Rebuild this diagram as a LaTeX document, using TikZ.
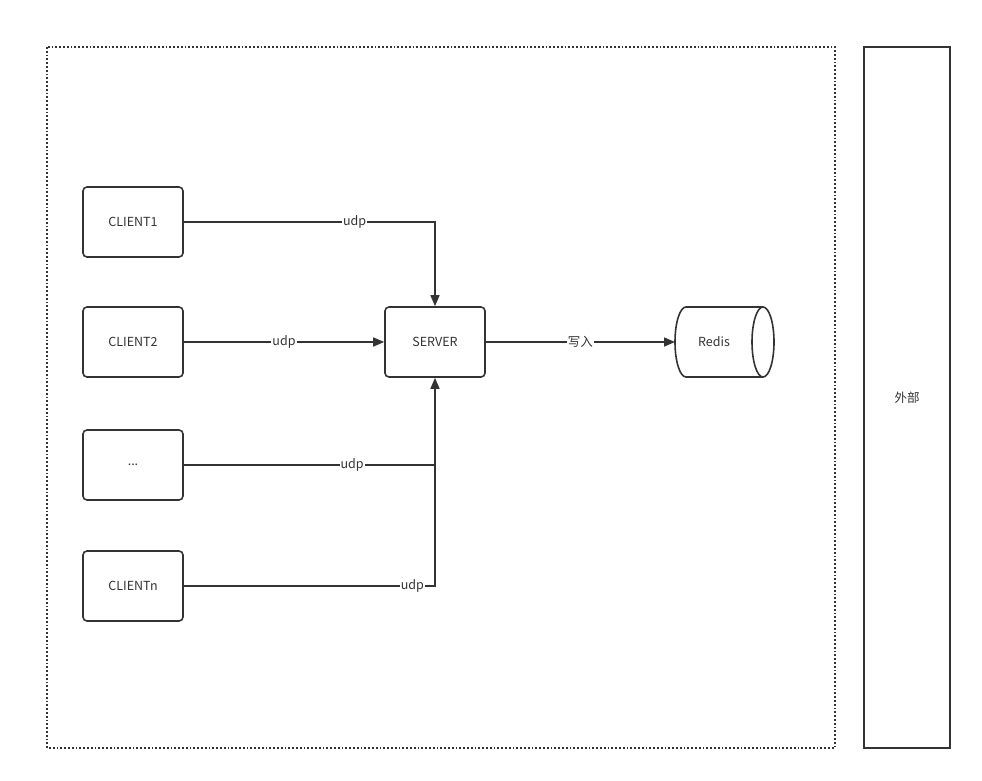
\documentclass[tikz,border=0pt]{standalone}
\usepackage{fontspec}
\setmainfont{Noto Sans CJK SC}
\usetikzlibrary{arrows.meta}
\definecolor{ln}{HTML}{333333}
\tikzset{
  box/.style={draw=ln, line width=1.6pt, rounded corners=4pt, minimum width=100pt, minimum height=70pt, inner sep=0pt, font=\fontsize{12.5pt}{14pt}\selectfont, text=ln},
  conn/.style={draw=ln, line width=1.6pt},
  arr/.style={conn, -{Triangle[length=11pt,width=9pt]}},
  lbl/.style={fill=white, inner sep=1pt, font=\fontsize{12.5pt}{14pt}\selectfont, text=ln},
}
\begin{document}
\begin{tikzpicture}[x=1pt,y=-1pt]
\useasboundingbox (0,0) rectangle (982,781);
\draw[ln, line width=1.5pt, dash pattern=on 1.8pt off 2pt] (47,47) rectangle (835,748);
\node[draw=ln, line width=1.6pt, minimum width=86pt, minimum height=701pt, inner sep=0pt, font=\fontsize{12.5pt}{14pt}\selectfont, text=ln] (ext) at (907,397.5) {外部};

\node[box] (c1) at (133,222) {CLIENT1};
\node[box] (c2) at (133,342) {CLIENT2};
\node[box] (c3) at (133,465) {...};
\node[box] (cn) at (133,586) {CLIENTn};
\node[box] (srv) at (435,342) {SERVER};
\node[minimum width=100pt, minimum height=70pt, inner sep=0pt, font=\fontsize{12.5pt}{14pt}\selectfont, text=ln] (redis) at (714,342) {Redis};
\draw[ln, line width=1.6pt] (763,307) -- (686,307) arc[start angle=90, end angle=270, x radius=11pt, y radius=35pt] -- (763,377);
\draw[ln, line width=1.6pt] (763,342) ellipse [x radius=11pt, y radius=35pt];
\coordinate (rw) at (675,342);

\draw[arr] (c1.east) -- node[lbl, pos=0.68] {udp} (c1.east -| srv.north) -- (srv.north);
\draw[arr] (c2.east) -- node[lbl] {udp} (srv.west);
\draw[conn] (c3.east) -- node[lbl, pos=0.67] {udp} (c3.east -| srv.south);
\draw[arr] (cn.east) -- node[lbl, pos=0.91] {udp} (cn.east -| srv.south) -- (srv.south);
\draw[arr] (srv.east) -- node[lbl, pos=0.5] {写入} (rw);
\end{tikzpicture}
\end{document}
